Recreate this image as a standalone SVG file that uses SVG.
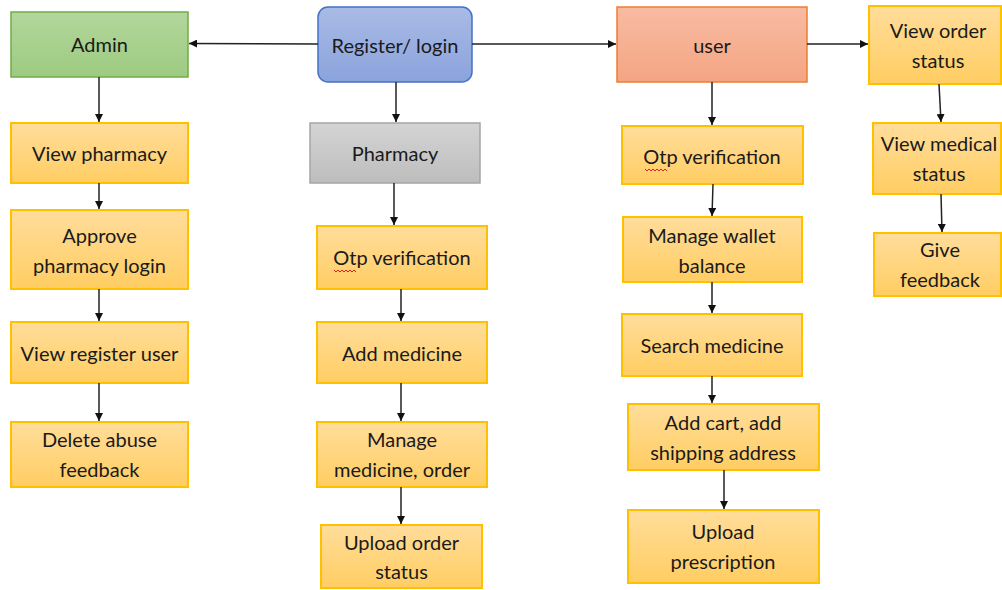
<svg xmlns="http://www.w3.org/2000/svg" width="1002" height="590" viewBox="0 0 1002 590">
<defs>
<linearGradient id="gOr" x1="0" y1="0" x2="0" y2="1"><stop offset="0" stop-color="#FFDD9B"/><stop offset="1" stop-color="#FFCD62"/></linearGradient>
<linearGradient id="gGr" x1="0" y1="0" x2="0" y2="1"><stop offset="0" stop-color="#B3D69C"/><stop offset="1" stop-color="#9DCB80"/></linearGradient>
<linearGradient id="gBl" x1="0" y1="0" x2="0" y2="1"><stop offset="0" stop-color="#A9BBE6"/><stop offset="1" stop-color="#8BA3DC"/></linearGradient>
<linearGradient id="gRd" x1="0" y1="0" x2="0" y2="1"><stop offset="0" stop-color="#F8BBA2"/><stop offset="1" stop-color="#F4A583"/></linearGradient>
<linearGradient id="gGy" x1="0" y1="0" x2="0" y2="1"><stop offset="0" stop-color="#D4D4D4"/><stop offset="1" stop-color="#BDBDBD"/></linearGradient>
<marker id="ah" viewBox="0 0 10 10" refX="10" refY="5" markerWidth="8" markerHeight="8" markerUnits="userSpaceOnUse" orient="auto">
<path d="M0,0 L10,5 L0,10 z" fill="#111"/>
</marker>
</defs>
<style>
.or{fill:url(#gOr);stroke:#FFC000;stroke-width:2}
.gr{fill:url(#gGr);stroke:#70AD47;stroke-width:1.5}
.bl{fill:url(#gBl);stroke:#4472C4;stroke-width:1.5}
.rd{fill:url(#gRd);stroke:#ED7D31;stroke-width:1.5}
.gy{fill:url(#gGy);stroke:#A5A5A5;stroke-width:1.5}
text{font-family:Lato,"Liberation Sans",sans-serif;font-size:20px;fill:#1a1a1a;text-anchor:middle}
.c path{stroke:#222;stroke-width:1.5;fill:none;marker-end:url(#ah)}
.sq{stroke:#E02020;stroke-width:1;fill:none}
</style>
<rect width="1002" height="590" fill="#fff"/>
<g id="admin"><rect class="gr" x="11" y="12" width="177" height="65"/><text x="99.5" y="52">Admin</text></g>
<g id="register"><rect class="bl" x="318" y="7" width="154" height="75" rx="10"/><text x="395" y="53">Register/ login</text></g>
<g id="user"><rect class="rd" x="617" y="7" width="190" height="75"/><text x="712" y="53">user</text></g>
<g id="viewOrder"><rect class="or" x="869" y="6" width="132" height="78"/><text x="938" y="38">View order</text><text x="938" y="68">status</text></g>
<g id="viewPharmacy"><rect class="or" x="11" y="123" width="177" height="60"/><text x="99.5" y="161">View pharmacy</text></g>
<g id="pharmacy"><rect class="gy" x="310" y="123" width="170" height="60"/><text x="395" y="161">Pharmacy</text></g>
<g id="userOtp"><rect class="or" x="622" y="126" width="181" height="58"/><text x="712" y="164">Otp verification</text><path class="sq" d="M645,169 l2,2 l2,-2 l2,2 l2,-2 l2,2 l2,-2 l2,2 l2,-2 l2,2 l2,-2 l2,2"/></g>
<g id="viewMedical"><rect class="or" x="873" y="123" width="128" height="71"/><text x="939" y="151">View medical</text><text x="939" y="181">status</text></g>
<g id="approve"><rect class="or" x="11" y="210" width="177" height="79"/><text x="99.5" y="243">Approve</text><text x="99.5" y="273">pharmacy login</text></g>
<g id="pharmOtp"><rect class="or" x="317" y="226" width="170" height="63"/><text x="402" y="265">Otp verification</text><path class="sq" d="M334,270 l2,2 l2,-2 l2,2 l2,-2 l2,2 l2,-2 l2,2 l2,-2 l2,2 l2,-2 l2,2"/></g>
<g id="wallet"><rect class="or" x="623" y="217" width="179" height="65"/><text x="712" y="243">Manage wallet</text><text x="712" y="273">balance</text></g>
<g id="giveFeedback"><rect class="or" x="874" y="233" width="127" height="63"/><text x="940" y="257">Give</text><text x="940" y="287">feedback</text></g>
<g id="viewRegister"><rect class="or" x="11" y="322" width="177" height="61"/><text x="99.5" y="361">View register user</text></g>
<g id="addMedicine"><rect class="or" x="317" y="322" width="170" height="61"/><text x="402" y="361">Add medicine</text></g>
<g id="searchMedicine"><rect class="or" x="622" y="314" width="180" height="62"/><text x="712" y="353">Search medicine</text></g>
<g id="deleteAbuse"><rect class="or" x="11" y="422" width="177" height="65"/><text x="99.5" y="447">Delete abuse</text><text x="99.5" y="477">feedback</text></g>
<g id="manageMedicine"><rect class="or" x="317" y="422" width="170" height="65"/><text x="402" y="447">Manage</text><text x="402" y="477">medicine, order</text></g>
<g id="addCart"><rect class="or" x="628" y="404" width="191" height="66"/><text x="723" y="430">Add cart, add</text><text x="723" y="460">shipping address</text></g>
<g id="uploadOrder"><rect class="or" x="321" y="525" width="161" height="63"/><text x="401.5" y="550">Upload order</text><text x="401.5" y="579">status</text></g>
<g id="uploadPrescription"><rect class="or" x="628" y="510" width="191" height="73"/><text x="723" y="539">Upload</text><text x="723" y="569">prescription</text></g>
<g id="connectors" class="c">
<path d="M318,44 L189,43.5"/>
<path d="M472,44 L616,44"/>
<path d="M807,44 L868,44"/>
<path d="M396,82 L396,122"/>
<path d="M99,77 L99,122"/>
<path d="M99,183 L99,209"/>
<path d="M99,289 L99,321"/>
<path d="M99,383 L99,421"/>
<path d="M394,183 L394,225"/>
<path d="M401,289 L401,321"/>
<path d="M401,383 L401,421"/>
<path d="M401,487 L401,524"/>
<path d="M712,82 L712,125"/>
<path d="M713,184 L712,216"/>
<path d="M712,282 L712,313"/>
<path d="M712,376 L712,403"/>
<path d="M724,470 L724,509"/>
<path d="M939,84 L941,122"/>
<path d="M941,194 L942,232"/>
</g>
</svg>
